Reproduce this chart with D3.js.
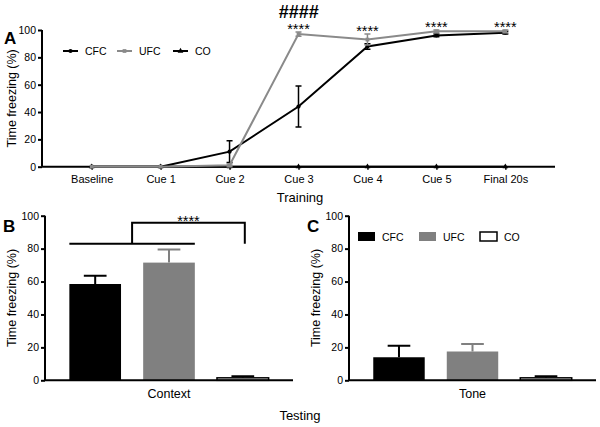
<!DOCTYPE html>
<html><head><meta charset="utf-8">
<script src="https://cdn.jsdelivr.net/npm/d3@7"></script>
<style>body{margin:0;background:#fff}svg{font-family:"Liberation Sans",Arial,sans-serif}</style>
</head><body>
<svg id="c" width="600" height="427"></svg>
<script>
// ---- data ----
const trainCats = ["Baseline","Cue 1","Cue 2","Cue 3","Cue 4","Cue 5","Final 20s"];
const cfcTrain = [0, 0, 11, 44, 88, 96, 98];
const cfcTrainErr = [0, 0, 8, 15, 2, 1, 1];
const ufcTrain = [0, 0, 1, 97, 93, 99, 99];
const ufcTrainErr = [0, 0, 1, 1.5, 4, 1, 1];
const coTrain = [0, 0, 0, 0, 0, 0, 0];
const trainStars = ["", "", "", "****", "****", "****", "****"];
const groups = ["CFC","UFC","CO"];
const contextVals = [58.5, 71.5, 1.5];
const contextErr = [5, 8, 1];
const toneVals = [14, 17.5, 1.5];
const toneErr = [7, 4.5, 1];
const yTicks = [0, 20, 40, 60, 80, 100];

const svg = d3.select("#c");
const colors = {CFC:"#000", UFC:"#808080", CO:"#fff"};
const lineColors = {CFC:"#000", UFC:"#8a8a8a", CO:"#000"};

function yAxis(g, y, x0) {
  const ax = g.append("g").attr("transform", `translate(${x0},0)`)
    .call(d3.axisLeft(y).tickValues(yTicks).tickSize(4).tickPadding(2));
  ax.select(".domain").attr("stroke-width", 2).attr("d", `M0,${y(0)}V${y(100)}`);
  ax.selectAll(".tick line").attr("stroke-width", 2);
  ax.selectAll("text").attr("font-size", 10.5).attr("fill", "#000");
  return ax;
}

// ---- Panel A ----
const yA = d3.scaleLinear().domain([0,100]).range([166.7, 30]);
const xA = d3.scalePoint().domain(trainCats).range([42, 555]).padding(0.72);
const gA = svg.append("g");
yAxis(gA, yA, 42);
const axA = gA.append("g").attr("transform", `translate(0,${yA(0)})`)
  .call(d3.axisBottom(xA).tickSize(3).tickPadding(6));
axA.select(".domain").attr("stroke-width", 2).attr("d", "M42,0H555");
axA.selectAll(".tick line").attr("stroke-width", 1.5);
axA.selectAll("text").attr("font-size", 11).attr("fill", "#000");

const lineGen = d3.line().x((d,i)=>xA(trainCats[i])).y(d=>yA(d));
function series(vals, errs, col, marker) {
  gA.append("path").datum(vals).attr("d", lineGen).attr("fill","none")
    .attr("stroke", col).attr("stroke-width", 2);
  if (errs) {
    vals.forEach((v,i)=>{
      if (!errs[i]) return;
      const x = xA(trainCats[i]);
      gA.append("path").attr("d", `M${x},${yA(v-errs[i])}V${yA(v+errs[i])}M${x-3},${yA(v-errs[i])}H${x+3}M${x-3},${yA(v+errs[i])}H${x+3}`)
        .attr("stroke", col).attr("stroke-width", 1.5).attr("fill","none");
    });
  }
  gA.selectAll(null).data(vals).enter().append("path")
    .attr("transform",(d,i)=>`translate(${xA(trainCats[i])},${yA(d)})`)
    .attr("d", d3.symbol().type(marker).size(14)).attr("fill", col);
}
series(coTrain, null, "#000", d3.symbolTriangle);
series(cfcTrain, cfcTrainErr, lineColors.CFC, d3.symbolCircle);
series(ufcTrain, ufcTrainErr, lineColors.UFC, d3.symbolSquare);

trainStars.forEach((s,i)=>{
  if (!s) return;
  const top = Math.max(ufcTrain[i]+ufcTrainErr[i], cfcTrain[i]+cfcTrainErr[i]);
  gA.append("text").attr("x", xA(trainCats[i])).attr("y", yA(top)+2)
    .attr("text-anchor","middle").attr("font-size", 14.5).text(s);
});
gA.append("text").attr("x", xA("Cue 3")).attr("y", 18).attr("text-anchor","middle")
  .attr("font-size", 18).attr("font-weight","bold").attr("font-style","italic").text("####");

// legend A
const legA = [{k:"CFC",x:63,m:d3.symbolCircle},{k:"UFC",x:117,m:d3.symbolSquare},{k:"CO",x:173,m:d3.symbolTriangle}];
legA.forEach(l=>{
  gA.append("line").attr("x1",l.x).attr("x2",l.x+15).attr("y1",51).attr("y2",51)
    .attr("stroke", lineColors[l.k]).attr("stroke-width",2);
  gA.append("path").attr("transform",`translate(${l.x+7.5},51)`).attr("d",d3.symbol().type(l.m).size(14)).attr("fill",lineColors[l.k]);
  gA.append("text").attr("x",l.x+22).attr("y",55).attr("font-size",10.5).text(l.k);
});

gA.append("text").attr("x",4).attr("y",44).attr("font-size",17).attr("font-weight","bold").text("A");
gA.append("text").attr("transform",`translate(16,${(yA(0)+yA(100))/2}) rotate(-90)`)
  .attr("text-anchor","middle").attr("font-size",12.5).text("Time freezing (%)");
gA.append("text").attr("x",300).attr("y",202).attr("text-anchor","middle").attr("font-size",13).text("Training");

// ---- Bar panels ----
const yB = d3.scaleLinear().domain([0,100]).range([380.3, 215.7]);
function barPanel(x0, x1, vals, errs, label, letter, letterX) {
  const g = svg.append("g");
  const x = d3.scaleBand().domain(groups).range([x0, x1]).paddingInner(0.3).paddingOuter(0.33);
  groups.forEach((k,i)=>{
    const cx = x(k)+x.bandwidth()/2;
    g.append("path").attr("d",`M${cx},${yB(vals[i])}V${yB(vals[i]+errs[i])}M${cx-x.bandwidth()*0.22},${yB(vals[i]+errs[i])}H${cx+x.bandwidth()*0.22}`)
      .attr("stroke", k==="UFC"?"#808080":"#000").attr("stroke-width",2).attr("fill","none");
  });
  g.selectAll(null).data(vals).enter().append("rect")
    .attr("x",(d,i)=>x(groups[i])).attr("width",x.bandwidth())
    .attr("y",d=>yB(d)).attr("height",d=>yB(0)-yB(d))
    .attr("fill",(d,i)=>colors[groups[i]])
    .attr("stroke",(d,i)=>groups[i]==="CO"?"#000":"none").attr("stroke-width",1.5);
  yAxis(g, yB, x0);
  g.append("line").attr("x1",x0).attr("x2",x1).attr("y1",yB(0)).attr("y2",yB(0)).attr("stroke","#000").attr("stroke-width",2);
  g.append("text").attr("x",(x0+x1)/2).attr("y",398).attr("text-anchor","middle").attr("font-size",12.5).text(label);
  g.append("text").attr("x",letterX).attr("y",232).attr("font-size",17).attr("font-weight","bold").text(letter);
  g.append("text").attr("transform",`translate(${x0-29},${(yB(0)+yB(100))/2}) rotate(-90)`)
    .attr("text-anchor","middle").attr("font-size",12.5).text("Time freezing (%)");
  return {g, x};
}
const B = barPanel(45, 293, contextVals, contextErr, "Context", "B", 3);
const C = barPanel(349, 596, toneVals, toneErr, "Tone", "C", 307);

// significance bracket in B
{
  const g = B.g, x = B.x;
  const yl = 243.7, yt = 222.7;
  const xl = x("CFC"), xr = x("UFC")+x.bandwidth();
  const xm = (xl+xr)/2, xc = x("CO")+x.bandwidth()/2 + 2;
  g.append("path").attr("d",`M${xl},${yl}H${xr}M${xm},${yl}V${yt}H${xc}V${yl}`)
    .attr("stroke","#000").attr("stroke-width",2).attr("fill","none");
  g.append("text").attr("x",(xm+xc)/2).attr("y",yt+3).attr("text-anchor","middle").attr("font-size",14.5).text("****");
}

// legend in C
[{k:"CFC",x:358},{k:"UFC",x:419},{k:"CO",x:480}].forEach(l=>{
  C.g.append("rect").attr("x",l.x).attr("y",232).attr("width",17).attr("height",9)
    .attr("fill",colors[l.k]).attr("stroke",l.k==="CO"?"#000":"none").attr("stroke-width",1.5);
  C.g.append("text").attr("x",l.x+24).attr("y",240.5).attr("font-size",10.5).text(l.k);
});

svg.append("text").attr("x",300).attr("y",420).attr("text-anchor","middle").attr("font-size",13).text("Testing");
</script>
</body></html>
